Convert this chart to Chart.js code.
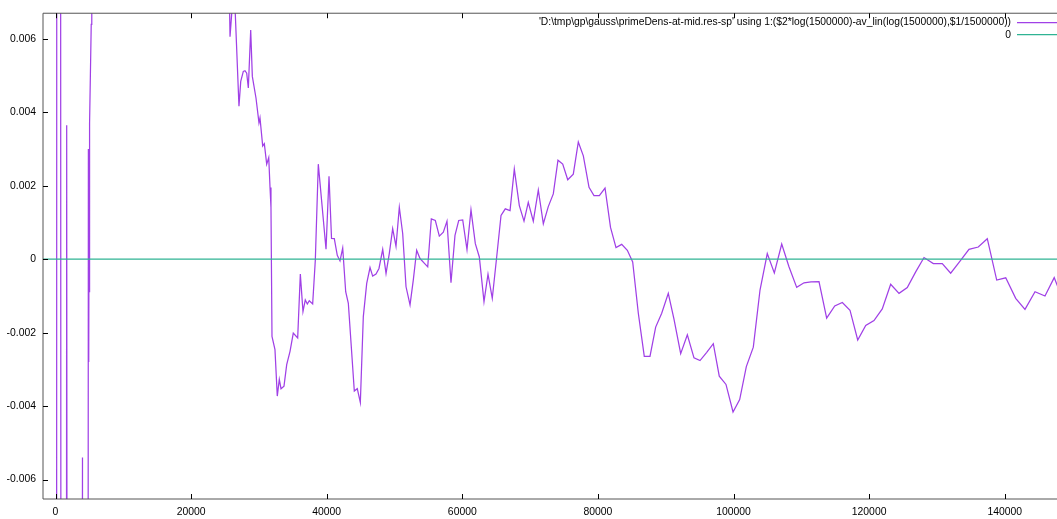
<!DOCTYPE html>
<html>
<head>
<meta charset="utf-8">
<title>primeDens residual</title>
<script src="https://cdn.jsdelivr.net/npm/chart.js@4.4.1/dist/chart.umd.min.js"></script>
<style>
    html, body { margin: 0; padding: 0; background: #fff; }
    #chart { display: block; }
</style>
</head>
<body>
<canvas id="chart" width="1057" height="519"></canvas>
<script>
// values
// first few points blow far out of the y range (the vertical spikes near x=0)
const xValues = [
    0, 350, 1200, 1650, 2400, 3980, 4100, 4850, 4900, 4950, 5000, 5050, 5270, 5350,
    25740, 26330, 27060, 27320, 27700, 27950, 28200, 28440, 28790, 29030,
    29570, 30010, 30160, 30560, 30800, 31150, 31450, 31640, 31780, 31930,
    32370, 32710, 33010, 33260, 33700, 34100, 34590, 35070, 35720, 36110,
    36500, 36840, 37140, 37430, 37930, 38320, 38760, 39900, 40340, 40710,
    41120, 41560, 41960, 42360, 42800, 43190, 43690, 44070, 44510, 44960,
    45400, 45900, 46390, 46780, 47270, 47710, 48260, 48750, 49230, 49730,
    50220, 50710, 51210, 51700, 52290, 52770, 53270, 53760, 54350, 54900,
    55430, 56020, 56610, 57200, 57740, 58330, 58920, 59470, 60060, 60690,
    61280, 61920, 62510, 63200, 63790, 64420, 65070, 65710, 66340, 67040,
    67670, 68410, 69100, 69730, 70470, 71210, 71950, 72680, 73420, 74110,
    74810, 75550, 76370, 77110, 77850, 78690, 79420, 80210, 81050, 81860,
    82670, 83510, 84340, 85130, 85960, 86840, 87680, 88520, 89410, 90380,
    91220, 92210, 93190, 94170, 95060, 96050, 97020, 97900, 98890, 99930,
    100910, 101890, 102920, 103910, 104980, 106020, 107110, 108180, 109320, 110400,
    111430, 112610, 113740, 114930, 116050, 117180, 118320, 119500, 120720, 121940,
    123180, 124410, 125630, 126870, 128100, 129470, 130790, 132030, 133410, 134730,
    136100, 137430, 138820, 140150, 141620, 142990, 144470, 145940, 147300, 148600
];
const yValues = [
    -0.2, 0.2, -0.2, 0.00365, -0.2, -0.0054, -0.25, 0.0030, -0.0028, 0.0013, -0.0009, 0.0037, 0.0064, 0.25,
    0.00606, 0.00755, 0.004168, 0.004844, 0.005115, 0.005134, 0.005069, 0.004663, 0.006244, 0.00498,
    0.004392, 0.003716, 0.003851, 0.003085, 0.003147, 0.00259, 0.002769, 0.001957, 0.001415, -0.002103,
    -0.002463, -0.003727, -0.003275, -0.003526, -0.003456, -0.002869, -0.002509, -0.002011, -0.002146, -0.000406,
    -0.001426, -0.00111, -0.001218, -0.001129, -0.001218, -0.000027, 0.00259, 0.000271, 0.00226, 0.000568,
    0.00056, 0.000108, -0.000046, 0.000306, -0.000885, -0.001199, -0.002552, -0.003591, -0.003526, -0.003905,
    -0.001562, -0.000658, -0.000225, -0.00046, -0.000406, -0.000252, 0.000271, -0.000387, 0.000154, 0.000831,
    0.000352, 0.001415, 0.000696, -0.00075, -0.001245, -0.000568, 0.000244, 0.000019, -0.0001, -0.000208,
    0.001101, 0.001055, 0.000631, 0.000739, 0.001037, -0.000641, 0.00065, 0.001055, 0.001069, 0.000263,
    0.001345, 0.000425, 0.000062, -0.001156, -0.000406, -0.001064, 0.000062, 0.001191, 0.001372, 0.001326,
    0.002455, 0.001461, 0.001037, 0.001551, 0.001037, 0.001886, 0.000966, 0.001434, 0.001778, 0.002698,
    0.00259, 0.002165, 0.002319, 0.003194, 0.002815, 0.001957, 0.001732, 0.001732, 0.00194, 0.000866,
    0.000317, 0.000406, 0.000244, -0.000073, -0.00147, -0.002644, -0.002644, -0.001848, -0.00147, -0.000928,
    -0.001632, -0.002571, -0.002057, -0.002687, -0.00276, -0.002536, -0.0023, -0.003185, -0.00341, -0.00416,
    -0.003824, -0.002923, -0.002395, -0.000839, 0.000154, -0.000371, 0.000414, -0.000203, -0.000766, -0.000641,
    -0.000617, -0.000609, -0.001605, -0.001272, -0.001177, -0.001388, -0.0022, -0.001805, -0.00167, -0.001353,
    -0.000682, -0.000928, -0.000771, -0.000344, 0.000046, -0.000116, -0.000116, -0.000379, -0.000054, 0.000271,
    0.000333, 0.00056, -0.000568, -0.000506, -0.001064, -0.001367, -0.000885, -0.001001, -0.000501, -0.00111
];

// the "0" function, across the whole x range
const zeroX = [-1844, 150000];
const zeroY = [0, 0];

const xRange = [-1844, 147712];
const yRange = [-0.00653, 0.0067];

const xTicks = [0, 20000, 40000, 60000, 80000, 100000, 120000, 140000];
const yTicks = [-0.006, -0.004, -0.002, 0, 0.002, 0.004, 0.006];
const yTickLabels = ['-0.006', '-0.004', '-0.002', '0', '0.002', '0.004', '0.006'];

const seriesLabels = [
    "'D:\\tmp\\gp\\gauss\\primeDens-at-mid.res-sp' using 1:($2*log(1500000)-av_lin(log(1500000),$1/1500000))",
    '0'
];
const seriesColors = ['#a040e6', '#2fb393'];

const tickFont = { family: "'Liberation Sans', Arial, sans-serif", size: 10.4 };
const keyFontSize = 10.3;

// gnuplot style frame: border, inward ticks (mirrored on top) and the key
const gnuplotFrame = {
    id: 'gnuplotFrame',
    afterDatasetsDraw(chart) {
        const { ctx, chartArea: area, scales } = chart;
        ctx.save();
        ctx.lineWidth = 1;
        ctx.strokeStyle = '#555';
        ctx.beginPath();
        ctx.moveTo(area.right, area.top);
        ctx.lineTo(area.left, area.top);
        ctx.lineTo(area.left, area.bottom);
        ctx.lineTo(area.right, area.bottom);
        ctx.stroke();

        ctx.strokeStyle = '#000';
        ctx.beginPath();
        xTicks.forEach(v => {
            const px = Math.round(scales.x.getPixelForValue(v)) + 0.5;
            ctx.moveTo(px, area.bottom);
            ctx.lineTo(px, area.bottom - 5);
            ctx.moveTo(px, area.top);
            ctx.lineTo(px, area.top + 5);
        });
        yTicks.forEach(v => {
            const py = Math.round(scales.y.getPixelForValue(v)) + 0.5;
            ctx.moveTo(area.left, py);
            ctx.lineTo(area.left + 5, py);
        });
        ctx.stroke();

        // key, top right
        ctx.font = keyFontSize + 'px ' + tickFont.family;
        ctx.fillStyle = '#000';
        ctx.textAlign = 'right';
        ctx.textBaseline = 'middle';
        chart.data.datasets.forEach((ds, i) => {
            const y = 22.5 + i * 12.5;
            ctx.fillText(ds.label, 1011, y);
            ctx.beginPath();
            ctx.strokeStyle = ds.borderColor;
            ctx.lineWidth = ds.borderWidth;
            ctx.moveTo(1017, Math.round(y) - 0.5);
            ctx.lineTo(1062, Math.round(y) - 0.5);
            ctx.stroke();
        });
        ctx.restore();
    }
};

const ctx = document.getElementById('chart').getContext('2d');
new Chart(ctx, {
    type: 'line',
    data: {
        datasets: [
            {
                label: seriesLabels[0],
                data: xValues.map((x, i) => ({ x: x, y: yValues[i] })),
                borderColor: seriesColors[0],
                borderWidth: 1.25,
                pointRadius: 0,
                tension: 0,
                order: 1
            },
            {
                label: seriesLabels[1],
                data: zeroX.map((x, i) => ({ x: x, y: zeroY[i] })),
                borderColor: seriesColors[1],
                borderWidth: 1.25,
                pointRadius: 0,
                order: 0
            }
        ]
    },
    options: {
        responsive: false,
        animation: false,
        devicePixelRatio: 1,
        layout: { padding: { top: 10, right: 0, bottom: 0, left: 0 } },
        plugins: {
            legend: { display: false },
            tooltip: { enabled: false }
        },
        scales: {
            x: {
                type: 'linear',
                min: xRange[0],
                max: xRange[1],
                grid: { display: false, drawTicks: false },
                border: { display: false },
                afterBuildTicks: scale => { scale.ticks = xTicks.map(v => ({ value: v })); },
                afterFit: scale => { scale.height = 20; },
                ticks: {
                    font: tickFont,
                    color: '#000',
                    padding: 7,
                    maxRotation: 0,
                    autoSkip: false,
                    callback: v => String(v)
                }
            },
            y: {
                type: 'linear',
                min: yRange[0],
                max: yRange[1],
                grid: { display: false, drawTicks: false },
                border: { display: false },
                afterBuildTicks: scale => { scale.ticks = yTicks.map(v => ({ value: v })); },
                afterFit: scale => { scale.width = 43; },
                ticks: {
                    font: tickFont,
                    color: '#000',
                    padding: 7,
                    autoSkip: false,
                    callback: v => yTickLabels[yTicks.indexOf(v)]
                }
            }
        }
    },
    plugins: [gnuplotFrame]
});
</script>
</body>
</html>
